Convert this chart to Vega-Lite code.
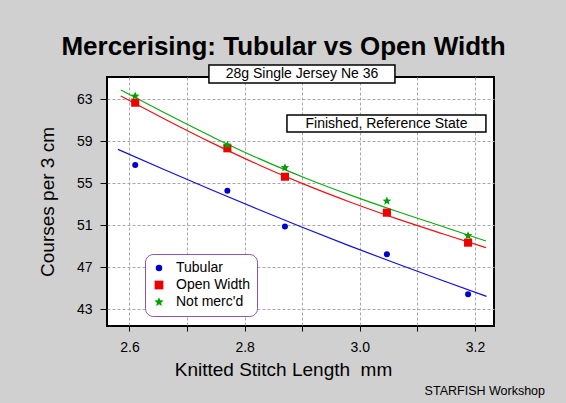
{
  "$schema": "https://vega.github.io/schema/vega-lite/v6.json",
  "autosize": "none",
  "width": 387,
  "height": 249,
  "padding": {"left": 107, "top": 77, "right": 72, "bottom": 77},
  "background": "#d0d0d0",
  "config": {
    "font": "Liberation Sans",
    "view": {"fill": "white", "stroke": "black", "strokeWidth": 2},
    "axis": {
      "domain": false,
      "grid": true,
      "gridColor": "#a8a8a8",
      "gridDash": [3, 2],
      "gridWidth": 1,
      "tickColor": "black",
      "tickWidth": 1,
      "labelColor": "black",
      "labelFontSize": 14,
      "labelFont": "Liberation Sans",
      "titleFont": "Liberation Sans",
      "titleFontSize": 19,
      "titleFontWeight": "normal",
      "titleColor": "black"
    },
    "legend": {
      "labelFontSize": 14,
      "labelFont": "Liberation Sans",
      "labelColor": "black"
    }
  },
  "title": {
    "text": "Mercerising: Tubular vs Open Width",
    "font": "Liberation Sans",
    "fontSize": 26,
    "fontWeight": "bold",
    "color": "black",
    "anchor": "middle",
    "dx": -17,
    "offset": 4
  },
  "datasets": {
    "points": [
      {"series": "Tubular", "x": 2.61, "y": 56.74},
      {"series": "Tubular", "x": 2.77, "y": 54.29},
      {"series": "Tubular", "x": 2.87, "y": 50.86},
      {"series": "Tubular", "x": 3.047, "y": 48.22},
      {"series": "Tubular", "x": 3.188, "y": 44.41},
      {"series": "Open Width", "x": 2.61, "y": 62.68},
      {"series": "Open Width", "x": 2.77, "y": 58.33},
      {"series": "Open Width", "x": 2.87, "y": 55.62},
      {"series": "Open Width", "x": 3.047, "y": 52.19},
      {"series": "Open Width", "x": 3.188, "y": 49.33},
      {"series": "Not merc'd", "x": 2.61, "y": 63.31},
      {"series": "Not merc'd", "x": 2.77, "y": 58.64},
      {"series": "Not merc'd", "x": 2.87, "y": 56.48},
      {"series": "Not merc'd", "x": 3.047, "y": 53.30},
      {"series": "Not merc'd", "x": 3.188, "y": 49.99}
    ],
    "fits": [
      {"series": "Tubular", "x": 2.58, "y": 58.23},
      {"series": "Tubular", "x": 2.66, "y": 56.31},
      {"series": "Tubular", "x": 2.74, "y": 54.43},
      {"series": "Tubular", "x": 2.82, "y": 52.59},
      {"series": "Tubular", "x": 2.90, "y": 50.80},
      {"series": "Tubular", "x": 2.98, "y": 49.07},
      {"series": "Tubular", "x": 3.06, "y": 47.41},
      {"series": "Tubular", "x": 3.14, "y": 45.79},
      {"series": "Tubular", "x": 3.22, "y": 44.21},
      {"series": "Open Width", "x": 2.585, "y": 63.31},
      {"series": "Open Width", "x": 2.665, "y": 61.01},
      {"series": "Open Width", "x": 2.745, "y": 58.80},
      {"series": "Open Width", "x": 2.825, "y": 56.74},
      {"series": "Open Width", "x": 2.905, "y": 54.86},
      {"series": "Open Width", "x": 2.985, "y": 53.16},
      {"series": "Open Width", "x": 3.065, "y": 51.60},
      {"series": "Open Width", "x": 3.145, "y": 50.16},
      {"series": "Open Width", "x": 3.219, "y": 48.86},
      {"series": "Not merc'd", "x": 2.585, "y": 63.89},
      {"series": "Not merc'd", "x": 2.665, "y": 61.60},
      {"series": "Not merc'd", "x": 2.745, "y": 59.39},
      {"series": "Not merc'd", "x": 2.825, "y": 57.34},
      {"series": "Not merc'd", "x": 2.905, "y": 55.50},
      {"series": "Not merc'd", "x": 2.985, "y": 53.84},
      {"series": "Not merc'd", "x": 3.065, "y": 52.30},
      {"series": "Not merc'd", "x": 3.145, "y": 50.85},
      {"series": "Not merc'd", "x": 3.219, "y": 49.49}
    ]
  },
  "layer": [
    {
      "data": {"name": "fits"},
      "mark": {"type": "line", "interpolate": "monotone", "strokeWidth": 1.2},
      "encoding": {
        "x": {
          "field": "x",
          "type": "quantitative",
          "scale": {"domain": [2.561, 3.233], "nice": false, "zero": false},
          "axis": {
            "title": "Knitted Stitch Length\u00a0 mm",
            "values": [2.6, 2.7, 2.8, 2.9, 3.0, 3.1, 3.2],
            "labelExpr": "round(datum.value * 10) % 2 == 0 ? format(datum.value, '.1f') : ''",
            "tickSize": 5,
            "labelPadding": 9,
            "titlePadding": 6,
            "titleX": 176,
            "titleAlign": "center"
          }
        },
        "y": {
          "field": "y",
          "type": "quantitative",
          "scale": {"domain": [41.38, 65.13], "nice": false, "zero": false},
          "axis": {
            "title": "Courses per 3 cm",
            "values": [43, 47, 51, 55, 59, 63],
            "tickSize": 7,
            "labelPadding": 8,
            "titlePadding": 19
          }
        },
        "stroke": {
          "field": "series",
          "type": "nominal",
          "scale": {"domain": ["Not merc'd", "Open Width", "Tubular"], "range": ["#10a810", "#f01010", "#1010d8"]},
          "legend": null
        }
      }
    },
    {
      "data": {"name": "points"},
      "mark": {"type": "point", "filled": true, "opacity": 1, "size": 36},
      "encoding": {
        "x": {
          "field": "x",
          "type": "quantitative",
          "scale": {"domain": [2.561, 3.233], "nice": false, "zero": false},
          "axis": {
            "title": "Knitted Stitch Length\u00a0 mm",
            "values": [2.6, 2.7, 2.8, 2.9, 3.0, 3.1, 3.2],
            "labelExpr": "round(datum.value * 10) % 2 == 0 ? format(datum.value, '.1f') : ''",
            "tickSize": 5,
            "labelPadding": 9,
            "titlePadding": 6,
            "titleX": 176,
            "titleAlign": "center"
          }
        },
        "y": {
          "field": "y",
          "type": "quantitative",
          "scale": {"domain": [41.38, 65.13], "nice": false, "zero": false},
          "axis": {
            "title": "Courses per 3 cm",
            "values": [43, 47, 51, 55, 59, 63],
            "tickSize": 7,
            "labelPadding": 8,
            "titlePadding": 19
          }
        },
        "color": {
          "field": "series",
          "type": "nominal",
          "scale": {"domain": ["Tubular", "Open Width", "Not merc'd"], "range": ["#0000cc", "#ee0000", "#00a000"]},
          "legend": {
            "title": null,
            "orient": "none",
            "legendX": 38,
            "legendY": 177,
            "fillColor": "white",
            "strokeColor": "#8a55aa",
            "cornerRadius": 8,
            "padding": 7,
            "rowPadding": 3,
            "labelOffset": 10,
            "symbolSize": 42
          }
        },
        "shape": {
          "field": "series",
          "type": "nominal",
          "scale": {"domain": ["Tubular", "Open Width", "Not merc'd"], "range": ["circle", "M-1.35,-1.35L1.35,-1.35L1.35,1.35L-1.35,1.35Z", "M0,-1.5L0.397,-0.546L1.427,-0.464L0.642,0.209L0.882,1.214L0,0.675L-0.882,1.214L-0.642,0.209L-1.427,-0.464L-0.397,-0.546Z"]},
          "legend": {
            "title": null,
            "orient": "none",
            "legendX": 38,
            "legendY": 177,
            "fillColor": "white",
            "strokeColor": "#8a55aa",
            "cornerRadius": 8,
            "padding": 7,
            "rowPadding": 3,
            "labelOffset": 10,
            "symbolSize": 42
          }
        }
      }
    },
    {
      "data": {"values": [{"label": "28g Single Jersey Ne 36"}]},
      "mark": {"type": "rect", "fill": "white", "stroke": "black", "strokeWidth": 1.5},
      "encoding": {
        "x": {"datum": 2.738, "type": "quantitative"},
        "x2": {"datum": 3.061},
        "y": {"datum": 66.27, "type": "quantitative"},
        "y2": {"datum": 64.55}
      }
    },
    {
      "data": {"values": [{"label": "28g Single Jersey Ne 36"}]},
      "mark": {"type": "text", "fontSize": 14, "baseline": "middle", "align": "center", "color": "black"},
      "encoding": {
        "x": {"datum": 2.8996, "type": "quantitative"},
        "y": {"datum": 65.41, "type": "quantitative"},
        "text": {"field": "label"}
      }
    },
    {
      "data": {"values": [{"label": "Finished, Reference State"}]},
      "mark": {"type": "rect", "fill": "white", "stroke": "black", "strokeWidth": 1.5},
      "encoding": {
        "x": {"datum": 2.8735, "type": "quantitative"},
        "x2": {"datum": 3.219},
        "y": {"datum": 61.50, "type": "quantitative"},
        "y2": {"datum": 59.88}
      }
    },
    {
      "data": {"values": [{"label": "Finished, Reference State"}]},
      "mark": {"type": "text", "fontSize": 14, "baseline": "middle", "align": "center", "color": "black"},
      "encoding": {
        "x": {"datum": 3.0463, "type": "quantitative"},
        "y": {"datum": 60.69, "type": "quantitative"},
        "text": {"field": "label"}
      }
    },
    {
      "data": {"values": [{"label": "STARFISH Workshop"}]},
      "mark": {"type": "text", "fontSize": 12.5, "baseline": "middle", "align": "right", "color": "black"},
      "encoding": {
        "x": {"datum": 3.3216, "type": "quantitative"},
        "y": {"datum": 35.19, "type": "quantitative"},
        "text": {"field": "label"}
      }
    }
  ]
}
